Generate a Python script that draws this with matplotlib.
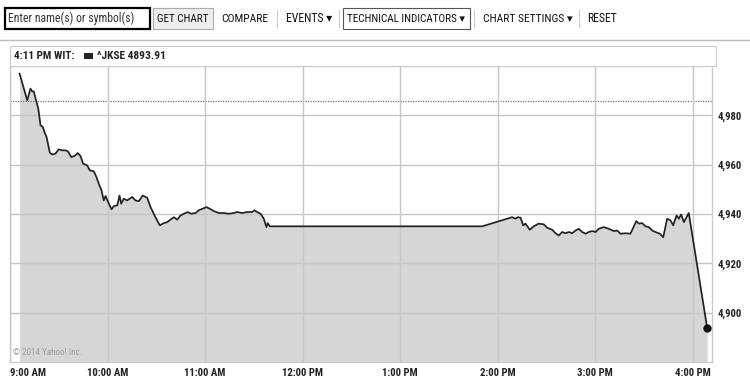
import glob
import matplotlib
matplotlib.use('Agg')
import matplotlib.pyplot as plt
from matplotlib import font_manager as fm
from matplotlib.patches import Rectangle
from matplotlib.lines import Line2D

W, H = 750, 380

# look for a narrow face like the one on the web page
for pat in ['*Narrow*.ttf', '*Condensed*.ttf', '*Cond*.ttf']:
    for p in glob.glob('/usr/share/fonts/**/' + pat, recursive=True):
        try:
            fm.fontManager.addfont(p)
        except Exception:
            pass
names = {f.name for f in fm.fontManager.ttflist}
narrow = 'DejaVu Sans'
for cand in ['Liberation Sans Narrow', 'Roboto Condensed', 'Open Sans Condensed',
             'Noto Sans Condensed', 'DejaVu Sans Condensed']:
    if cand in names:
        narrow = cand
        break
FONT = [narrow, 'DejaVu Sans']
plt.rcParams['font.family'] = FONT

# minutes after 9:00 AM and index level (^JKSE intraday)
minutes = [5.9, 10.6, 12.6, 13.7, 14.6, 17.4, 18.8, 20.2, 21.2, 22.5,
           24.5, 26.0, 28.0, 30.0, 32.1, 34.2, 35.6, 37.7, 39.7, 41.7,
           43.4, 45.0, 47.5, 49.1, 51.6, 53.2, 54.6, 56.3, 57.7, 58.8,
           60.4, 62.5, 63.9, 66.0, 67.4, 68.4, 70.0, 72.1, 75.2, 77.2,
           79.3, 81.7, 84.4, 86.5, 89.5, 92.2, 94.6, 96.7, 98.8, 100.8,
           102.9, 104.9, 107.0, 109.4, 111.5, 114.2, 116.2, 118.3, 120.9, 123.0,
           125.4, 128.5, 131.6, 134.6, 137.7, 139.8, 142.9, 146.0, 149.0, 150.5,
           152.1, 154.2, 156.2, 157.8, 158.6, 159.9, 290.6, 309.0, 311.1, 312.5,
           314.2, 315.8, 317.2, 319.9, 322.3, 325.4, 328.5, 330.6, 333.7, 335.7,
           337.7, 339.8, 341.8, 343.9, 346.0, 348.0, 350.0, 352.1, 354.2, 356.2,
           358.3, 360.3, 362.3, 365.4, 368.5, 371.6, 373.7, 375.7, 378.8, 381.8,
           385.4, 387.0, 389.0, 391.1, 393.1, 395.2, 397.2, 399.9, 402.0, 404.4,
           406.5, 408.1, 410.2, 411.6, 413.0, 414.7, 417.7, 429.0]
level = [4996.9, 4986.1, 4990.8, 4989.7, 4989.7, 4982.7, 4975.9, 4975.3, 4973.2, 4971.2,
         4964.9, 4964.1, 4964.5, 4966.2, 4965.8, 4965.8, 4965.4, 4963.1, 4963.5, 4964.7,
         4963.5, 4960.4, 4959.7, 4957.7, 4957.3, 4955.0, 4952.3, 4949.6, 4945.5, 4947.3,
         4944.8, 4941.9, 4943.2, 4943.5, 4947.5, 4944.2, 4946.2, 4945.5, 4946.9, 4945.5,
         4945.2, 4947.5, 4946.6, 4942.8, 4938.7, 4935.4, 4936.3, 4936.7, 4937.7, 4938.7,
         4937.7, 4939.4, 4940.1, 4940.8, 4940.1, 4940.4, 4941.5, 4942.1, 4942.8, 4942.1,
         4941.2, 4940.4, 4940.4, 4940.1, 4940.4, 4940.8, 4940.4, 4940.8, 4940.8, 4941.5,
         4940.8, 4940.1, 4938.1, 4934.7, 4936.3, 4935.0, 4935.0, 4938.7, 4938.1, 4938.7,
         4938.5, 4935.4, 4936.1, 4933.6, 4935.0, 4936.1, 4935.8, 4934.4, 4933.6, 4932.2,
         4931.3, 4932.7, 4932.2, 4932.7, 4932.2, 4933.3, 4934.0, 4932.7, 4932.0, 4932.7,
         4933.1, 4932.7, 4934.0, 4934.7, 4934.0, 4933.1, 4933.3, 4932.0, 4932.2, 4932.0,
         4937.1, 4936.1, 4936.3, 4935.0, 4934.7, 4933.3, 4932.7, 4932.0, 4930.6, 4938.1,
         4937.4, 4935.4, 4939.4, 4938.1, 4939.8, 4936.7, 4940.4, 4893.9]
prev_close = 4985.8
stamp = '4:11 PM WIT:'
quote = '^JKSE 4893.91'
x_ticks = [0, 60, 120, 180, 240, 300, 360, 420]
x_labels = ['9:00 AM', '10:00 AM', '11:00 AM', '12:00 PM',
            '1:00 PM', '2:00 PM', '3:00 PM', '4:00 PM']
y_ticks = [4900, 4920, 4940, 4960, 4980]
menu = ['COMPARE', 'EVENTS \u25BE', 'TECHNICAL INDICATORS \u25BE', 'CHART SETTINGS \u25BE', 'RESET']


def fx(x):
    return x / W


def fy(y):
    return 1 - y / H


fig = plt.figure(figsize=(W / 100, H / 100), dpi=100)
fig.patch.set_facecolor('white')
renderer = fig.canvas.get_renderer()


def fit_text(x, y, s, width, size, **kw):
    # shrink the font until the text is no wider than on the page
    t = fig.text(fx(x), fy(y), s, fontsize=size, va='center', **kw)
    while t.get_window_extent(renderer).width > width and size > 4:
        size -= 0.25
        t.set_fontsize(size)
    return t


# toolbar
fig.patches.append(Rectangle((fx(5), fy(29)), 145 / W, 21 / H, transform=fig.transFigure,
                             facecolor='white', edgecolor='black', lw=1.6))
fit_text(8, 18.5, 'Enter name(s) or symbol(s)', 127, 8.5, color='#333333')
fig.patches.append(Rectangle((fx(153), fy(29)), 60 / W, 21 / H, transform=fig.transFigure,
                             facecolor='#eeeeee', edgecolor='#aaaaaa', lw=0.8))
fit_text(183, 18.5, 'GET CHART', 52, 8.5, color='#111111', ha='center')
fig.patches.append(Rectangle((fx(343), fy(29)), 127 / W, 21 / H, transform=fig.transFigure,
                             facecolor='white', edgecolor='#555555', lw=0.8))
menu_x = [221, 286, 347, 483, 587]
menu_w = [47, 47, 120, 90, 31]
for xpos, wd, label in zip(menu_x, menu_w, menu):
    fit_text(xpos, 18.5, label, wd, 8.5, color='#111111')
for xs in [277, 339, 474, 579]:
    fig.lines.append(Line2D([fx(xs), fx(xs)], [fy(10), fy(27)], transform=fig.transFigure,
                            color='#cccccc', lw=0.8))
fig.lines.append(Line2D([0, 1], [fy(40), fy(40)], transform=fig.transFigure, color='#bbbbbb', lw=1))

# header strip
fig.patches.append(Rectangle((fx(10), fy(66)), 706 / W, 20 / H, transform=fig.transFigure,
                             facecolor='white', edgecolor='#cccccc', lw=0.8))
fit_text(14, 56, stamp, 61, 8.5, fontweight='bold', color='#222222')
fig.patches.append(Rectangle((fx(84), fy(59)), 9 / W, 6 / H, transform=fig.transFigure,
                             facecolor='#222222', edgecolor='none'))
fit_text(97, 56, quote, 69, 8.5, fontweight='bold', color='#222222')

# chart
ax = fig.add_axes([fx(10), fy(362), 702 / W, 296 / H])
ax.set_xlim(0, 432)
ax.set_ylim(4880, 5000)
ax.fill_between(minutes, level, 4880, color='#d6d6d6', lw=0, zorder=1)
ax.plot(minutes, level, color='#222222', lw=1.25, zorder=3)
ax.plot(minutes[-1], level[-1], 'o', color='#111111', ms=5, zorder=4)
ax.axhline(prev_close, color='#777777', ls=(0, (1, 1)), lw=0.9, zorder=2)

ax.set_axisbelow(False)
ax.grid(True, color='#c6c6c6', lw=1)
for ln in ax.get_xgridlines() + ax.get_ygridlines():
    ln.set_zorder(2)

# tick label size: fit "10:00 AM" into about 43 px
tick_size = 8.5
probe = fig.text(0, 0, '10:00 AM', fontsize=tick_size, fontweight='bold')
while probe.get_window_extent(renderer).width > 43 and tick_size > 4:
    tick_size -= 0.25
    probe.set_fontsize(tick_size)
probe.remove()

ax.set_xticks(x_ticks)
ax.set_xticklabels(x_labels, fontsize=tick_size, fontweight='bold', color='#222222')
ax.get_xticklabels()[0].set_ha('left')
ax.yaxis.tick_right()
ax.set_yticks(y_ticks)
ax.set_yticklabels([f'{v:,}' for v in y_ticks], fontsize=tick_size, fontweight='bold',
                   color='#222222')
ax.tick_params(axis='both', length=0)
ax.tick_params(axis='x', pad=4)
ax.tick_params(axis='y', pad=4)
for side in ['left', 'right', 'top', 'bottom']:
    ax.spines[side].set_color('#cccccc')
    ax.spines[side].set_linewidth(1)

ax.text(3 / 702, 5 / 296, '\u00a9 2014 Yahoo! Inc.', transform=ax.transAxes,
        fontsize=6.5, color='#999999', va='bottom')

fig.savefig('out.png', dpi=100)
